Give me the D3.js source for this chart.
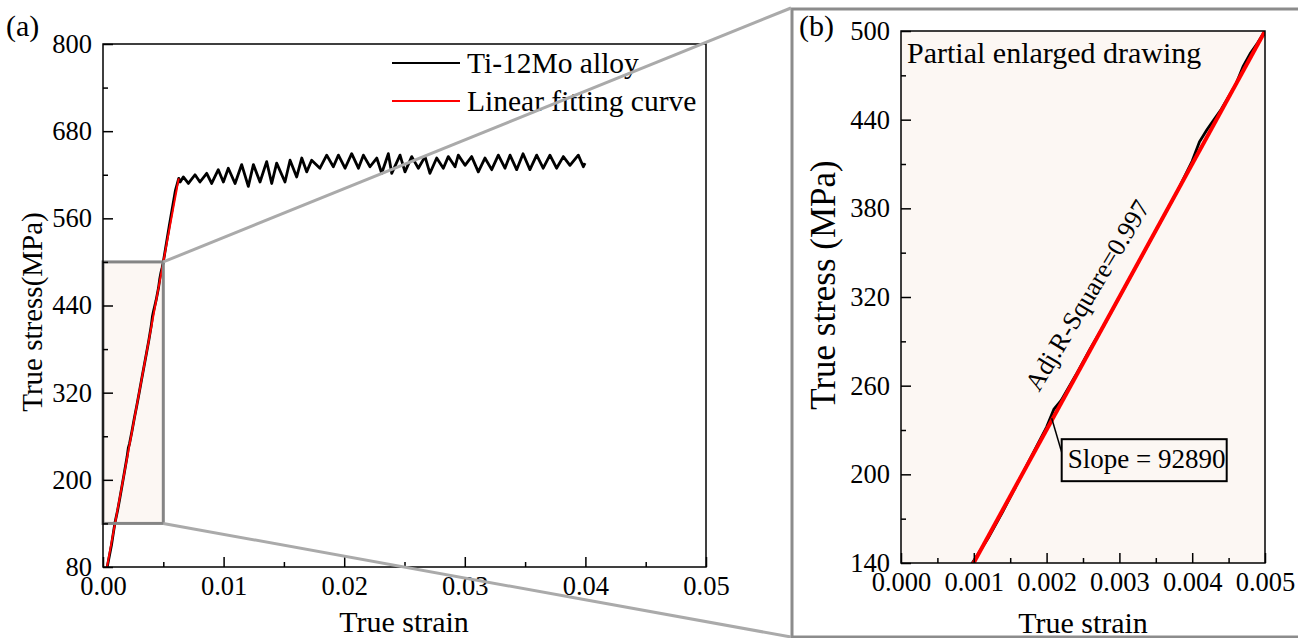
<!DOCTYPE html>
<html lang="en">
<head>
    <meta charset="UTF-8">
    <title>Ti-12Mo true stress-strain</title>
    <style>
        body { margin: 0; background: #fff; }
        svg text { font-family: "Liberation Serif", "Times New Roman", serif; fill: #000; }
        .tick line { stroke: #000; stroke-width: 1.5px; }
        .frame { fill: none; stroke: #000; stroke-width: 1.5px; }
        .title { text-anchor: middle; }
    </style>
</head>
<body>
    <script src="https://d3js.org/d3.v7.min.js"></script>
    <script>
        // elastic part of the measured curve (strain, MPa)
        const elasticStrain = [0.00035, 0.0007, 0.00098, 0.0012, 0.0014, 0.0016, 0.0018, 0.0020, 0.0021, 0.0022, 0.0024,
            0.0026, 0.0028, 0.0030, 0.0032, 0.0034, 0.0036, 0.0038, 0.0040, 0.0041, 0.0042, 0.0043, 0.0044, 0.0046,
            0.0047, 0.0048, 0.0049, 0.0050, 0.0055, 0.0060, 0.00628];
        const elasticStress = [80, 110, 140, 157, 175, 194, 213, 232, 244, 250, 267,
            285, 302, 320, 338, 356, 374, 392, 412, 425, 433, 440, 447, 464,
            476, 485, 492, 500, 550, 598, 615];

        // serrated plastic flow
        const serrStrain = [0.0064, 0.00666, 0.00708, 0.00763, 0.00804, 0.0086, 0.00901, 0.00956, 0.00998, 0.01039,
            0.01095, 0.0115, 0.01205, 0.01247, 0.01302, 0.01357, 0.01399, 0.0144, 0.01509, 0.01551, 0.01606, 0.01648,
            0.01689, 0.0173, 0.01799, 0.01855, 0.0191, 0.01952, 0.02007, 0.02062, 0.02118, 0.02159, 0.02214, 0.0227,
            0.02311, 0.02366, 0.02394, 0.02463, 0.02504, 0.0256, 0.02615, 0.0267, 0.02711, 0.02767, 0.02822, 0.02863,
            0.02919, 0.02946, 0.03002, 0.03057, 0.03112, 0.03167, 0.03223, 0.03278, 0.03333, 0.03375, 0.0343, 0.03483,
            0.0354, 0.03596, 0.0365, 0.03706, 0.03761, 0.03817, 0.03872, 0.03941, 0.03983, 0.03997];
        const serrStress = [610, 617, 608, 620, 610, 622, 608, 627, 610, 629,
            608, 634, 604, 634, 610, 638, 608, 636, 610, 640, 617, 643,
            624, 640, 629, 647, 631, 647, 629, 649, 629, 647, 631, 643,
            622, 649, 622, 647, 624, 645, 629, 645, 622, 643, 629, 645,
            631, 647, 633, 645, 624, 643, 627, 647, 629, 647, 627, 649,
            627, 647, 629, 647, 629, 645, 633, 647, 631, 636];

        // linear fit endpoints
        const fitStrain = [0.00033, 0.00628];
        const fitStress = [80, 615];

        const leftXTicks = [0, 0.01, 0.02, 0.03, 0.04, 0.05];
        const leftYTicks = [80, 200, 320, 440, 560, 680, 800];
        const rightXTicks = [0, 0.001, 0.002, 0.003, 0.004, 0.005];
        const rightYTicks = [140, 200, 260, 320, 380, 440, 500];

        const zoomStrain = [0, 0.005];
        const zoomStress = [140, 500];

        const width = 1298, height = 638;
        const bg = "#fcf7f3";

        const svg = d3.select("body").append("svg")
            .attr("width", width)
            .attr("height", height);

        const curve = elasticStrain.map((s, i) => [s, elasticStress[i]])
            .concat(serrStrain.map((s, i) => [s, serrStress[i]]));
        const elastic = elasticStrain.map((s, i) => [s, elasticStress[i]]);
        const fit = fitStrain.map((s, i) => [s, fitStress[i]]);

        function minorOf(ticks) {
            const out = [];
            for (let i = 0; i < ticks.length - 1; i++) out.push((ticks[i] + ticks[i + 1]) / 2);
            return out;
        }

        function styleAxis(a) {
            a.select(".domain").remove();
            a.attr("font-size", 26.5).attr("font-family", "Liberation Serif, serif");
        }

        function drawAxes(g, x, y, xt, yt, xfmt, yfmt) {
            const [x0, x1] = x.range(), [y0, y1] = y.range();
            g.append("g").attr("transform", `translate(0,${y0})`)
                .call(d3.axisBottom(x).tickValues(xt).tickSize(-10).tickPadding(9).tickFormat(xfmt))
                .call(styleAxis);
            g.append("g").attr("transform", `translate(0,${y0})`)
                .call(d3.axisBottom(x).tickValues(minorOf(xt)).tickSize(-5).tickFormat(""))
                .call(styleAxis);
            g.append("g").attr("transform", `translate(${x0},0)`)
                .call(d3.axisLeft(y).tickValues(yt).tickSize(-10).tickPadding(11).tickFormat(yfmt))
                .call(styleAxis);
            g.append("g").attr("transform", `translate(${x0},0)`)
                .call(d3.axisLeft(y).tickValues(minorOf(yt)).tickSize(-5).tickFormat(""))
                .call(styleAxis);
            g.append("rect").attr("class", "frame")
                .attr("x", x0).attr("y", y1).attr("width", x1 - x0).attr("height", y0 - y1);
        }

        // ---- panel (a)
        const xL = d3.scaleLinear([0, 0.05], [103, 706]);
        const yL = d3.scaleLinear([80, 800], [567, 44]);
        const line = (x, y) => d3.line().x(d => x(d[0])).y(d => y(d[1]));

        const gA = svg.append("g");
        gA.append("rect")
            .attr("x", xL(zoomStrain[0])).attr("y", yL(zoomStress[1]))
            .attr("width", xL(zoomStrain[1]) - xL(zoomStrain[0]))
            .attr("height", yL(zoomStress[0]) - yL(zoomStress[1]))
            .attr("fill", bg);
        gA.append("path").datum(curve).attr("d", line(xL, yL))
            .attr("fill", "none").attr("stroke", "#000").attr("stroke-width", 2.8)
            .attr("stroke-linejoin", "round");
        gA.append("path").datum(fit).attr("d", line(xL, yL))
            .attr("fill", "none").attr("stroke", "#ff0000").attr("stroke-width", 2);
        gA.append("rect")
            .attr("x", xL(zoomStrain[0])).attr("y", yL(zoomStress[1]))
            .attr("width", xL(zoomStrain[1]) - xL(zoomStrain[0]))
            .attr("height", yL(zoomStress[0]) - yL(zoomStress[1]))
            .attr("fill", "none").attr("stroke", "#858585").attr("stroke-width", 3);
        drawAxes(gA, xL, yL, leftXTicks, leftYTicks, d3.format(".2f"), d3.format("d"));

        gA.append("text").attr("x", 6).attr("y", 36).attr("font-size", 30).text("(a)");
        gA.append("text").attr("class", "title").style("font-size", "30px")
            .attr("x", 404).attr("y", 632).text("True strain");
        gA.append("text").attr("class", "title").style("font-size", "29px")
            .attr("transform", "translate(42,312) rotate(-90)").text("True stress(MPa)");

        // legend
        const legend = [["Ti-12Mo alloy", "#000", 63], ["Linear fitting curve", "#ff0000", 101]];
        legend.forEach(([label, color, ly]) => {
            gA.append("line").attr("x1", 392).attr("x2", 460).attr("y1", ly).attr("y2", ly)
                .attr("stroke", color).attr("stroke-width", 2);
            gA.append("text").attr("x", 467).attr("y", ly + 10).attr("font-size", 29.5).text(label);
        });

        // ---- panel (b)
        const xR = d3.scaleLinear([0, 0.005], [901, 1265]);
        const yR = d3.scaleLinear([140, 500], [563, 31]);
        const gB = svg.append("g");

        svg.append("defs").append("clipPath").attr("id", "clipR")
            .append("rect").attr("x", 901).attr("y", 31).attr("width", 364).attr("height", 532);

        gB.append("rect").attr("x", 901).attr("y", 31).attr("width", 364).attr("height", 532).attr("fill", bg);
        const inner = gB.append("g").attr("clip-path", "url(#clipR)");
        inner.append("path").datum(elastic).attr("d", line(xR, yR))
            .attr("fill", "none").attr("stroke", "#000").attr("stroke-width", 2.8);
        inner.append("path").datum(fit).attr("d", line(xR, yR))
            .attr("fill", "none").attr("stroke", "#ff0000").attr("stroke-width", 4);
        drawAxes(gB, xR, yR, rightXTicks, rightYTicks, d3.format(".3f"), d3.format("d"));

        gB.append("text").attr("x", 799).attr("y", 36).attr("font-size", 30).text("(b)");
        gB.append("text").attr("x", 907).attr("y", 63).attr("font-size", 30).text("Partial enlarged drawing");
        gB.append("text").attr("class", "title").style("font-size", "30px")
            .attr("x", 1083).attr("y", 633).text("True strain");
        gB.append("text").attr("class", "title").style("font-size", "35px")
            .attr("transform", "translate(835,285) rotate(-90)").text("True stress (MPa)");

        gB.append("text").attr("font-size", 26).attr("text-anchor", "middle").attr("dy", "0.35em")
            .attr("transform", "translate(1087,295) rotate(-59)").text("Adj.R-Square=0.997");

        // slope callout
        const px = xR(0.00207), py = yR(238);
        gB.append("line").attr("x1", px).attr("y1", py).attr("x2", px + 10).attr("y2", py + 34)
            .attr("stroke", "#000").attr("stroke-width", 1.5);
        gB.append("rect").attr("x", px + 10).attr("y", py + 21).attr("width", 165).attr("height", 42)
            .attr("fill", bg).attr("stroke", "#000").attr("stroke-width", 2);
        gB.append("text").attr("x", px + 16).attr("y", py + 50).attr("font-size", 27).text("Slope = 92890");

        // ---- zoom connectors and outer frame
        svg.append("rect").attr("x", 792).attr("y", 9).attr("width", 520).attr("height", 628)
            .attr("fill", "none").attr("stroke", "#8c8c8c").attr("stroke-width", 3);
        const cx = xL(zoomStrain[1]);
        svg.append("line").attr("x1", cx).attr("y1", yL(zoomStress[1])).attr("x2", 791).attr("y2", 8)
            .attr("stroke", "#aaaaaa").attr("stroke-width", 3);
        svg.append("line").attr("x1", cx).attr("y1", yL(zoomStress[0])).attr("x2", 791).attr("y2", 637)
            .attr("stroke", "#aaaaaa").attr("stroke-width", 3);
    </script>
</body>
</html>
